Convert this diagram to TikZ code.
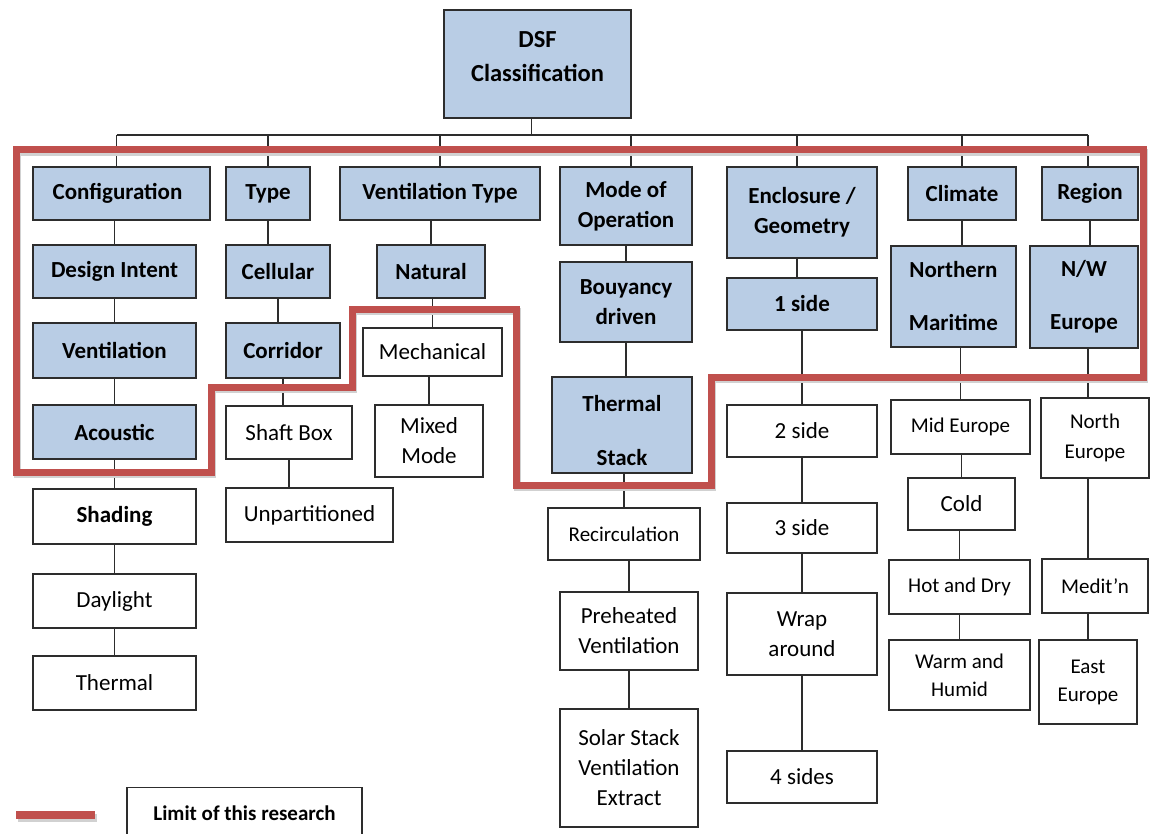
\documentclass[tikz,border=0pt]{standalone}
\usepackage{fontspec}
\setmainfont{Carlito}
\usepackage{tikz}
\usetikzlibrary{positioning}

\definecolor{catblue}{RGB}{185,205,229}
\definecolor{limitred}{RGB}{192,80,77}
\definecolor{edgegray}{RGB}{45,45,45}

\tikzset{
  cat/.style={draw=edgegray, fill=catblue, line width=1.4pt, align=center, inner sep=0pt,
    font=\fontsize{23}{30}\selectfont\bfseries},
  sub/.style={draw=edgegray, fill=white, line width=1.4pt, align=center, inner sep=0pt,
    font=\fontsize{23}{30}\selectfont},
  small/.style={font=\fontsize{21}{30}\selectfont},
  conn/.style={draw=edgegray, line width=1.2pt},
  limit/.style={draw=limitred, line width=7pt, line join=miter},
  limitshadow/.style={draw=black!18, line width=7pt, line join=miter},
}

\begin{document}
\begin{tikzpicture}[x=1pt, y=-1pt]
    \useasboundingbox (0,0) rectangle (1150,834);
    \clip (0,0) rectangle (1150,834);

    % root
    \node[cat, minimum width=187, minimum height=108, font=\fontsize{24.5}{34}\selectfont\bfseries] (dsf) at (537.5,64) {DSF\\Classification\\[-18pt]\mbox{}};

    % first level
    \node[cat, minimum width=177, minimum height=53] (conf)  at (121.5,193.5) {Configuration\hspace*{8pt}};
    \node[cat, minimum width=84,  minimum height=53] (type)  at (268,193.5) {Type};
    \node[cat, minimum width=200, minimum height=53] (vtype) at (440,193.5) {Ventilation Type};
    \node[cat, minimum width=132, minimum height=78] (mode)  at (626,206) {Mode of\\Operation};
    \node[cat, minimum width=150, minimum height=91] (encl)  at (802,212.5) {Enclosure /\\Geometry};
    \node[cat, minimum width=108, minimum height=53] (clim)  at (962,193.5) {Climate};
    \node[cat, minimum width=96,  minimum height=53] (reg)   at (1090,193.5) {Region};

    % configuration column
    \node[cat, minimum width=163, minimum height=53] (design) at (114.5,271.5) {Design Intent};
    \node[cat, minimum width=163, minimum height=55] (vent)   at (114.5,350.5) {Ventilation};
    \node[cat, minimum width=163, minimum height=54] (acou)   at (114.5,432) {Acoustic};
    \node[sub, minimum width=163, minimum height=55, font=\fontsize{23}{30}\selectfont\bfseries] (shad) at (114.5,516.5) {Shading};
    \node[sub, minimum width=163, minimum height=54] (day)    at (114.5,601) {Daylight};
    \node[sub, minimum width=163, minimum height=54] (therm)  at (114.5,683) {Thermal};

    % type column
    \node[cat, minimum width=104, minimum height=53] (cell)   at (278,271.5) {Cellular};
    \node[cat, minimum width=114, minimum height=55] (corr)   at (283,350.5) {Corridor};
    \node[sub, minimum width=126, minimum height=53] (shaft)  at (289,432.5) {Shaft Box};
    \node[sub, minimum width=167, minimum height=54] (unpart) at (309.5,515) {Unpartitioned};

    % ventilation type column
    \node[cat, minimum width=108, minimum height=53] (nat)   at (431,271.5) {Natural};
    \node[sub, minimum width=139, minimum height=48] (mech)  at (432.5,352) {Mechanical};
    \node[sub, minimum width=108, minimum height=72] (mixed) at (429,441) {Mixed\\Mode};

    % mode of operation column
    \node[cat, minimum width=132, minimum height=80]  (bouy)   at (626,302) {Bouyancy\\driven};
    \node[cat, minimum width=140, minimum height=96]  (tstack) at (622,425) {\rule{0pt}{28pt}Thermal\\[24pt]Stack};
    \node[sub, small, minimum width=152, minimum height=52]  (recirc) at (624,534) {Recirculation};
    \node[sub, minimum width=138, minimum height=78]  (preh)   at (629,631) {Preheated\\Ventilation};
    \node[sub, minimum width=138, minimum height=118] (solar)  at (629,768) {Solar Stack\\Ventilation\\Extract};

    % enclosure column
    \node[cat, minimum width=150, minimum height=52] (one)   at (802,304) {1 side};
    \node[sub, minimum width=150, minimum height=52] (two)   at (802,431) {2 side};
    \node[sub, minimum width=150, minimum height=50] (three) at (802,528) {3 side};
    \node[sub, minimum width=150, minimum height=82] (wrap)  at (802,634) {Wrap\\around};
    \node[sub, minimum width=150, minimum height=52] (four)  at (802,777) {4 sides};

    % climate column
    \node[cat, minimum width=125, minimum height=101] (north) at (953.5,296.5) {Northern\\[23pt]Maritime};
    \node[sub, small, minimum width=139, minimum height=54]  (mid)   at (960.5,427) {Mid Europe};
    \node[sub, minimum width=107, minimum height=52]  (cold)  at (961.5,504) {Cold};
    \node[sub, small, minimum width=141, minimum height=54]  (hot)   at (959.5,587) {Hot and Dry};
    \node[sub, small, minimum width=141, minimum height=70, font=\fontsize{21}{28}\selectfont]  (warm)  at (959.5,675) {Warm and\\Humid};

    % region column
    \node[cat, minimum width=108, minimum height=102] (nw)    at (1084,297) {N/W\\[23pt]Europe};
    \node[sub, small, minimum width=108, minimum height=80]  (neur)  at (1095,438) {North\\Europe};
    \node[sub, small, minimum width=106, minimum height=54]  (medit) at (1095,586) {Medit'n};
    \node[sub, small, minimum width=98,  minimum height=84, font=\fontsize{21}{28}\selectfont]  (east)  at (1088,682) {East\\Europe};

    % tree lines
    \coordinate (bus) at (531,135);
    \draw[conn] ([xshift=-6pt]dsf.south) -- ([xshift=-6pt]dsf.south |- bus);
    \draw[conn] ([xshift=-5pt]conf.north |- bus) -- ([xshift=-2pt]reg.north |- bus);
    \draw[conn] ([xshift=-5pt]conf.north) -- ([xshift=-5pt]conf.north |- bus);
    \draw[conn] ([xshift=5pt]mode.north) -- ([xshift=5pt]mode.north |- bus);
    \draw[conn] ([xshift=-5pt]encl.north) -- ([xshift=-5pt]encl.north |- bus);
    \draw[conn] ([xshift=-2pt]reg.north) -- ([xshift=-2pt]reg.north |- bus);
    \foreach \top in {type, vtype, clim}
        \draw[conn] (\top.north) -- (\top.north |- bus);

    % child x
    \foreach \up/\down in {conf/design, design/vent, vent/acou, acou/shad, shad/day, day/therm,
                           vtype/nat, nat/mech, mech/mixed, tstack/recirc, recirc/preh, preh/solar,
                           one/two, two/three, three/wrap, wrap/four,
                           north/mid, mid/cold, cold/hot, hot/warm}
        \draw[conn] (\down.north |- \up.south) -- (\down.north);
    % parent x
    \foreach \up/\down in {type/cell, cell/corr, corr/shaft, shaft/unpart,
                           mode/bouy, bouy/tstack, clim/north, reg/nw}
        \draw[conn] (\up.south) -- (\up.south |- \down.north);
    \draw[conn] ([xshift=-5pt]encl.south) -- ([xshift=-5pt]encl.south |- one.north);
    \draw[conn] ([xshift=4pt]nw.south) -- ([xshift=4pt]nw.south |- neur.north);
    \draw[conn] ([xshift=-7pt]neur.south) -- ([xshift=-7pt]neur.south |- medit.north);
    \draw[conn] ([xshift=-7pt]medit.south) -- ([xshift=-7pt]medit.south |- east.north);

    % limit of this research
    \draw[limitshadow, shift={(1.5,2.5)}] (16,150) -- (1143,150) -- (1143,377) -- (711,377) -- (711,485)
        -- (516,485) -- (516,309) -- (352,309) -- (352,387) -- (211,387)
        -- (211,472) -- (16,472) -- cycle;
    \draw[limit] (16,150) -- (1143,150) -- (1143,377) -- (711,377) -- (711,485)
        -- (516,485) -- (516,309) -- (352,309) -- (352,387) -- (211,387)
        -- (211,472) -- (16,472) -- cycle;

    % legend
    \draw[limitshadow, line width=8pt] (17.5,817.5) -- (96.5,817.5);
    \draw[limit, line width=8pt] (16,815) -- (95,815);
    \node[sub, minimum width=235, minimum height=50, anchor=north,
          font=\fontsize{21}{26}\selectfont\bfseries] (legend) at (244.5,787) {Limit of this research};
\end{tikzpicture}
\end{document}
